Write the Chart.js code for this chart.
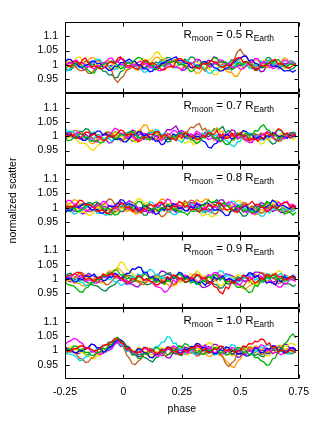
<!DOCTYPE html>
<html>
<head>
<meta charset="utf-8">
<script src="https://cdn.jsdelivr.net/npm/chart.js@4"></script>
<style>
  html, body { margin: 0; padding: 0; background: #fff; }
  #wrap { width: 316px; height: 422px; }
</style>
</head>
<body>
<div id="wrap"><canvas id="c"></canvas></div>
<script>
// phase values shared by every curve
const phase = [-0.25,-0.2375,-0.225,-0.2125,-0.2,-0.1875,-0.175,-0.1625,-0.15,-0.1375,
  -0.125,-0.1125,-0.1,-0.0875,-0.075,-0.0625,-0.05,-0.0375,-0.025,-0.0125,
  0,0.0125,0.025,0.0375,0.05,0.0625,0.075,0.0875,0.1,0.1125,
  0.125,0.1375,0.15,0.1625,0.175,0.1875,0.2,0.2125,0.225,0.2375,
  0.25,0.2625,0.275,0.2875,0.3,0.3125,0.325,0.3375,0.35,0.3625,
  0.375,0.3875,0.4,0.4125,0.425,0.4375,0.45,0.4625,0.475,0.4875,
  0.5,0.5125,0.525,0.5375,0.55,0.5625,0.575,0.5875,0.6,0.6125,
  0.625,0.6375,0.65,0.6625,0.675,0.6875,0.7,0.7125,0.725,0.7375]

const radii = ['0.5', '0.7', '0.8', '0.9', '1.0']
const yTicks = [0.95, 1, 1.05, 1.1]
const xTicks = [-0.25, 0, 0.25, 0.5, 0.75]
const colors = ['#ff0000','#00b000','#0000ff','#ff00ff','#00d8e8','#c0602a','#ffa000','#f0e000','#008a48','#9400d3']

// scatter deviation from 1, in units of 0.001 (one row per curve)
const dev05 = [
  [5,-4,-8,10,12,2,18,24,6,-8,-4,-6,-15,-12,-6,10,10,4,22,28,14,-2,-3,-4,-12,-16,2,14,16,0,8,2,-10,-16,-18,-8,-5,-8,12,22,20,12,9,4,-7,-10,-14,4,3,6,15,10,6,-4,-9,-2,-2,-2,18,24,26,10,11,4,-6,-18,-16,0,-4,-2,8,16,19,2,5,0,-11,-10,-3,6],
  [-12,-6,-4,-2,8,6,-6,-10,-20,-28,-28,-10,-10,2,5,6,14,8,-2,-14,-9,6,6,8,18,26,24,12,10,6,-4,-18,-14,-2,-6,10,9,10,16,0,2,-2,-12,-24,-20,-4,-8,8,6,0,14,26,22,8,10,10,-5,-18,-12,4,2,2,12,8,-4,-20,-18,-4,-10,4,4,6,16,18,8,-8,-6,2,2,0],
  [10,20,18,6,4,-8,-8,-2,2,12,14,4,6,-8,-10,-20,-18,-4,-6,8,8,14,20,12,12,0,-2,-14,-14,-24,-22,-8,-8,4,6,16,18,24,28,14,16,6,4,-10,-10,0,-2,10,12,2,4,-10,-12,-22,-20,-12,-10,4,8,20,22,30,30,14,18,6,2,-10,-8,6,6,-6,-4,-6,-14,-22,-20,-20,-26,-18],
  [-5,4,6,14,16,6,8,-4,-6,-8,-16,-2,-4,8,10,22,24,10,14,0,2,-8,-10,4,-2,10,12,2,6,-10,-8,-8,-20,-20,-12,4,4,-8,-6,-10,-18,-4,-10,6,8,20,18,4,10,-4,-4,8,4,18,16,2,6,-8,-8,-6,-16,-14,-4,8,10,22,22,4,12,-2,-2,-14,-10,4,4,16,14,2,6,-2],
  [-22,-20,-10,2,2,-10,-8,2,-4,10,10,20,18,2,6,-6,-6,-16,-14,0,-4,10,8,-6,-2,-14,-16,-26,-24,-8,-12,2,0,12,12,0,4,-10,-10,4,2,14,16,6,8,-10,-4,-6,-16,-28,-30,-18,-20,-2,-6,8,6,-8,-2,12,10,-2,4,-12,-10,0,-4,14,8,10,18,0,6,-12,-8,2,-2,10,10,2],
  [8,-4,-2,2,-12,-20,-20,-18,-30,-30,-18,-6,-6,6,4,-10,-20,-50,-62,-48,-40,-20,-14,-8,2,0,-6,8,10,2,4,-10,-8,4,-2,14,12,14,20,6,8,-8,-4,8,6,-12,-10,-12,-22,-4,-8,10,10,-4,4,-14,-16,8,22,46,55,38,30,12,8,-10,-6,6,4,16,14,0,2,-14,-10,2,0,10,8,4],
  [14,2,4,-6,-6,8,2,8,16,26,24,12,12,-4,-2,-2,-14,-18,-6,6,6,-6,-4,-6,-16,-20,-8,2,4,4,14,26,26,14,16,10,2,-10,-8,2,4,-8,-6,-6,-18,-30,-28,-14,-16,2,-2,10,8,-8,-4,-20,-26,-26,-40,-40,-22,-4,-6,8,6,18,16,4,6,-10,-6,6,4,4,12,24,20,6,8,-2],
  [2,14,12,10,24,28,16,2,4,-8,-6,4,2,4,14,16,6,-8,-8,-2,-18,-20,-8,8,6,8,18,22,12,18,28,44,44,26,24,4,10,8,-2,-12,-12,4,-4,2,10,10,4,-10,-8,-10,-20,-34,-34,-14,-20,0,-6,2,4,16,14,4,6,-10,-6,6,2,2,14,16,8,-8,-4,-4,-14,-16,-6,10,4,2],
  [-8,-20,-18,-6,-8,6,4,14,12,-2,2,-10,-10,-22,-24,-36,-34,-46,-44,-24,-20,-2,-4,8,8,-2,2,-10,-10,4,-4,10,6,18,16,26,24,10,12,2,0,20,14,28,26,10,18,2,6,-10,-6,4,2,-8,-8,8,4,18,16,4,10,-10,-2,-4,-14,-2,-4,12,8,24,26,12,14,-6,2,-2,-6,-16,-14,-4],
  [0,10,8,-6,-4,-4,-14,-16,-6,8,6,18,16,4,8,-4,-2,10,10,22,20,4,10,-10,-4,-2,-12,-14,-2,-2,-14,-16,-6,10,8,0,2,-8,-10,-10,-20,-18,-6,8,4,-8,-8,8,2,16,14,28,24,8,14,-4,2,-12,-10,0,-4,10,8,0,0,-14,-12,-24,-22,-2,-10,0,2,-10,-6,6,4,14,12,2]
]
const dev07 = [
  [12,0,4,4,-6,-8,2,14,14,2,8,0,-4,-16,-12,4,-2,2,10,22,18,4,8,6,-4,-20,-14,-2,-6,8,6,16,16,-4,6,2,-8,-6,-16,2,-6,12,8,-2,2,-12,-10,4,-4,14,10,6,20,-4,8,-8,-6,10,-2,4,12,-2,4,-14,-10,-8,-18,-4,-8,14,4,4,14,26,22,6,12,-6,2,6],
  [-4,-16,-14,-4,-6,8,8,-6,-2,-18,-16,-14,-24,-22,-12,6,2,-10,-6,8,4,4,16,18,8,-6,-4,-2,-12,-10,2,16,14,0,6,-12,-8,2,-2,12,10,0,-2,-12,-14,-26,-20,-4,-6,8,6,-8,-4,-18,-16,-28,-28,-14,-12,12,2,0,12,4,4,20,18,34,40,24,20,2,6,-6,-4,10,8,6,14,8],
  [16,4,6,-6,-6,-2,-14,-14,-4,8,8,18,18,4,10,-2,-2,-12,-10,-8,-20,-20,-8,8,4,16,14,2,6,-6,-6,-18,-16,-30,-26,-6,-12,8,2,12,12,-4,4,0,-8,0,-2,-16,-20,-38,-42,-28,-24,0,-8,6,4,-10,-6,10,6,20,16,4,8,-12,-4,0,-12,2,-2,12,10,-4,2,-2,-8,4,-2,6],
  [-8,4,2,2,12,14,4,-6,-8,-6,-18,-20,-8,6,4,2,14,28,24,10,10,-6,-2,-2,-12,-14,-4,10,8,-4,2,2,-10,-16,-4,4,8,20,18,6,8,-6,-6,8,2,18,12,0,4,-12,-8,-4,-18,-20,-10,8,2,0,10,-8,0,-2,-12,-22,-22,-4,-10,6,4,16,14,-4,6,2,-6,-10,2,12,10,2],
  [28,16,18,14,6,-6,-4,-2,-14,-16,-6,4,4,-10,-6,-8,-18,-6,-10,8,2,14,12,-2,4,-2,-8,4,-2,12,10,24,20,4,10,-8,-2,-4,-12,-14,-22,-6,-10,8,2,-10,-6,10,6,20,16,0,6,-18,-8,-14,-20,-32,-36,-20,-18,4,-4,12,8,-6,2,-14,-10,2,-4,0,8,22,18,6,8,-6,-4,2],
  [2,10,10,20,20,6,12,-6,-2,-2,-10,6,2,4,14,14,8,-6,-4,-16,-14,2,-4,16,10,10,20,0,8,-14,-6,-8,-16,-4,-8,10,4,-10,-4,6,6,14,18,32,30,40,44,22,28,10,12,-10,-2,0,-12,-4,-4,10,6,-6,-6,-8,-18,-6,-10,8,2,10,10,0,4,-4,-8,-18,-16,4,-4,8,6,-4],
  [-10,0,-2,10,8,-6,-4,-4,-16,-26,-24,-8,-10,8,2,14,12,-2,4,-10,-8,8,2,16,14,18,26,40,38,16,22,10,8,-14,-4,-4,-14,-4,-6,8,4,-8,-6,-6,-16,-4,-8,12,6,22,16,18,30,14,18,-6,4,2,-8,8,2,-12,-10,-8,-20,-6,-8,6,4,16,12,-6,2,-2,-10,8,-2,10,8,0],
  [6,-4,-4,-2,-14,-24,-24,-26,-36,-48,-48,-34,-28,-4,-12,-8,0,14,10,-2,2,-16,-10,-12,-20,-20,-8,10,4,-10,-4,-12,-14,2,-4,10,8,-4,2,-6,-10,-24,-20,-18,-30,-20,-16,6,-2,10,8,-14,-2,-4,-14,-2,-6,14,6,6,16,14,8,-10,-4,-4,-14,-28,-24,-8,-12,14,2,2,10,-10,-2,-2,-12,-6],
  [-14,-2,-4,8,6,18,16,26,24,8,14,0,2,-10,-8,6,2,16,14,4,6,-8,-6,-18,-16,-2,-6,6,6,16,14,2,4,-12,-8,-20,-18,-6,-8,8,2,6,12,-2,4,-8,-8,6,2,6,12,26,22,26,34,12,20,12,8,-10,-4,-4,-14,-2,-6,8,4,-10,-6,-6,-16,-28,-24,-6,-12,4,0,12,10,2],
  [4,14,12,-2,2,-10,-10,8,-2,2,10,-6,0,-10,-12,-24,-22,-8,-12,8,0,0,8,22,18,2,10,-12,-2,-2,-12,2,-4,4,8,24,22,28,36,16,20,12,6,-10,-6,10,4,4,14,-2,4,-14,-8,8,-2,4,10,22,20,0,10,4,-2,-16,-12,2,-4,10,6,-10,-4,-4,-14,-16,-6,10,6,4,14,10]
]
const dev08 = [
  [-6,4,4,2,14,26,24,10,12,8,0,-14,-10,-8,-20,-20,-10,2,2,14,12,0,4,-14,-8,-4,-18,-4,-6,12,6,4,16,20,8,-8,-4,6,4,22,16,2,8,-8,-6,-6,-16,-2,-8,12,4,2,14,16,6,-8,-6,-2,-14,-16,-4,10,10,12,22,10,12,2,0,-14,-10,4,-2,0,10,20,18,2,8,0],
  [10,-2,0,-2,-12,-14,-4,8,8,8,18,20,8,-6,-4,-2,-14,-26,-24,-12,-12,4,0,0,10,22,20,2,10,-10,-2,-4,-12,0,-4,12,8,-6,-4,-14,-16,-18,-26,-10,-14,-4,-2,10,8,26,18,20,28,4,16,12,4,-10,-6,6,2,-14,-8,-8,-18,-14,-8,4,4,18,14,0,4,-6,-8,-22,-18,-16,-26,-16],
  [-20,-8,-10,4,2,2,12,14,4,-8,-8,-6,-18,-20,-10,8,2,6,14,28,26,10,14,10,2,-12,-8,8,2,-2,-10,-24,-20,-2,-10,8,2,14,10,-4,0,-10,-12,4,-4,14,8,8,16,16,6,-10,-6,-8,-16,-28,-26,-8,-14,8,-2,2,8,-10,-2,-16,-12,6,-2,4,10,26,20,4,10,6,0,-4,6,0],
  [14,26,24,12,12,-2,0,-12,-10,4,-2,8,10,22,20,4,8,-4,-4,-14,-14,0,-4,10,6,-6,-4,-2,-16,-18,-8,12,4,16,14,30,26,6,14,8,2,-12,-8,8,2,18,12,-4,2,-12,-10,4,-2,18,10,6,20,18,10,-4,-2,-16,-12,-10,-22,-22,-12,4,0,-10,-8,6,2,20,12,16,22,8,12,4],
  [0,-8,-10,-22,-20,-8,-10,4,2,-6,-8,-20,-18,-20,-28,-16,-16,2,-4,10,6,8,16,0,8,-10,-4,6,6,20,18,2,8,-12,-4,-4,-14,-24,-24,-14,-12,4,0,12,10,-6,2,-18,-10,-10,-20,-6,-10,14,2,10,12,22,22,6,12,-6,0,-16,-10,-12,-20,-30,-30,-12,-18,-2,-6,8,4,-8,-6,-4,-14,-6],
  [-12,0,-2,8,8,-6,-2,-2,-14,-14,-4,10,8,10,18,30,28,12,16,6,4,-6,-6,-2,-16,-16,-6,10,4,-6,-6,-4,-18,-32,-28,-14,-16,6,-4,6,6,24,16,26,24,8,12,10,0,-14,-10,-22,-20,2,-8,8,4,-8,-6,2,4,18,16,-2,6,-4,-6,-20,-16,0,-6,10,6,-10,-4,-2,-14,-16,-4,6],
  [6,14,16,28,26,12,14,0,2,-10,-8,8,2,-12,-10,-10,-20,-18,-12,4,0,-14,-10,-10,-22,-20,-12,4,-2,12,8,10,18,30,28,8,16,6,4,-12,-8,10,2,12,12,28,22,20,30,30,18,4,6,-12,-4,-4,-14,-14,-4,8,8,-6,-2,-4,-12,-26,-22,-6,-10,14,2,4,12,12,4,-10,-8,-8,2,6],
  [20,10,8,6,-4,-18,-14,-16,-26,-26,-14,2,-2,12,8,-6,-2,2,-12,-4,-2,14,10,12,20,32,30,14,18,12,6,-12,-4,-6,-14,2,-4,14,6,8,18,18,8,-8,-4,-6,-14,-30,-24,-22,-32,-30,-20,-2,-8,14,2,6,12,26,24,8,14,0,2,-14,-8,6,2,18,14,14,24,22,12,-4,0,0,-10,-2],
  [-4,-12,-14,0,-4,10,8,10,18,16,8,-6,-4,-2,-14,-24,-24,-12,-14,2,-2,12,8,-8,-2,-14,-14,-26,-26,-6,-14,4,-2,12,8,-8,-2,-4,-12,0,0,16,12,0,4,-14,-8,-8,-18,-4,-8,12,4,4,14,16,6,-12,-6,-6,-18,-30,-28,-12,-16,6,-4,10,6,22,16,0,8,-10,-4,-2,-14,-4,-6,0],
  [8,6,-2,-12,-12,-14,-22,-18,-10,0,2,16,14,2,4,-6,-6,6,4,20,14,16,24,18,12,-2,0,-14,-10,-10,-20,-6,-8,-4,4,-10,-6,-8,-16,-2,-6,8,6,18,16,0,6,-8,-4,6,6,20,18,26,28,12,18,0,6,-16,-6,-6,-16,-4,-6,8,4,18,14,-2,4,-14,-8,-8,-18,-16,-8,4,4,0]
]
const dev09 = [
  [4,12,14,16,24,22,14,-2,2,0,-8,4,2,18,12,14,22,8,12,2,0,-12,-10,2,-2,12,10,-4,2,-8,-10,-20,-20,-6,-10,8,2,14,12,0,4,-10,-8,6,2,16,14,0,6,-14,-10,-26,-30,-46,-52,-28,-34,-8,-14,2,-2,12,8,-6,0,-14,-10,4,-2,16,10,12,20,8,10,-2,-2,8,6,0],
  [-10,-20,-22,-24,-34,-44,-46,-32,-28,-14,-12,-2,0,12,10,22,20,32,30,14,16,0,4,-8,-6,8,4,16,14,0,4,-12,-8,-8,-18,-4,-8,10,2,18,12,-2,2,-14,-10,-12,-20,-6,-10,10,2,16,12,-4,4,-12,-8,-8,-18,-30,-28,-26,-38,-48,-44,-22,-26,-2,-10,10,2,14,12,-4,4,-8,-6,8,4,0],
  [12,0,2,-10,-10,2,-2,12,8,10,18,2,8,-6,-4,8,6,20,16,2,8,20,20,36,34,42,40,20,24,2,10,-4,-2,-14,-12,2,-2,12,10,24,20,2,10,-6,-2,-16,-12,-12,-22,-8,-12,8,0,2,10,-4,2,-2,-10,2,-2,14,10,22,20,6,12,-6,0,-14,-10,-14,-20,-4,-10,8,2,6,12,4],
  [-4,4,6,18,16,2,8,-8,-4,-4,-14,-14,-4,10,8,8,18,18,10,-6,-2,-4,-12,-12,-2,12,8,-4,-2,-6,-14,-26,-28,-32,-46,-42,-28,-2,-12,4,0,14,10,-2,2,-12,-8,6,2,16,12,22,22,4,12,-10,0,-4,-10,-20,-20,-4,-10,10,2,6,12,10,4,-14,-8,-10,-18,-28,-28,-14,-16,2,-4,-8],
  [20,8,10,-6,-2,-10,-12,-24,-22,-8,-12,4,0,12,10,-2,2,-10,-10,-22,-20,-4,-10,8,2,18,12,26,22,34,30,14,18,2,6,-8,-4,10,6,20,16,0,6,-10,-6,-20,-16,-2,-6,12,6,10,16,30,26,8,14,-2,2,-12,-8,6,2,16,12,-4,2,-12,-10,4,-2,16,10,14,20,4,10,-4,0,6],
  [-8,4,2,-2,12,24,22,10,12,0,0,-12,-10,-8,-20,-18,-8,6,4,2,14,16,4,-10,-8,-6,-18,-20,-8,6,4,16,14,-2,6,6,-6,-18,-16,4,-6,8,6,4,16,18,8,-6,-4,-16,-14,2,-4,12,8,-4,-2,-16,-14,-12,-24,-26,-12,6,0,16,10,24,20,2,10,2,-2,-16,-12,4,-2,2,8,2],
  [6,4,-4,-14,-14,-16,-24,-24,-14,-12,-2,8,8,10,18,28,28,30,38,32,20,8,6,2,-4,-12,-14,-2,-4,6,6,-4,-4,-14,-16,-18,-26,-24,-14,-4,-2,6,8,-8,-2,-4,-14,-2,-4,8,8,10,18,8,8,-6,-4,-14,-14,-16,-24,-34,-34,-24,-20,-16,-6,6,4,-6,-6,-16,-16,-4,-6,4,4,2,14,8],
  [-14,-6,-4,8,6,18,16,6,8,-8,-4,-4,-14,-14,-4,14,10,30,42,60,56,34,30,18,10,-8,-2,-4,-12,2,-2,12,8,-6,-2,-4,-12,-24,-22,-8,-10,0,2,18,12,28,22,10,12,-6,0,-4,-10,-24,-20,-6,-10,8,2,16,12,8,4,-14,-8,-20,-18,-14,-8,10,4,20,14,30,24,4,12,6,0,-6],
  [10,18,20,8,10,-4,-2,-10,-12,-20,-22,-24,-32,-40,-42,-30,-24,-20,-8,0,2,14,12,10,2,-10,-10,-12,-20,-18,-10,4,2,10,12,20,22,8,12,-2,0,-12,-10,2,-2,12,10,-2,2,-12,-10,-18,-20,-32,-30,-14,-18,-8,-6,8,4,-8,-6,-6,-16,-14,-6,6,6,18,16,4,6,-4,-6,-18,-16,-18,-26,-20],
  [0,-8,-10,0,-2,12,10,10,20,14,10,-6,-2,8,6,18,16,4,6,-4,-6,-18,-16,-18,-26,-28,-16,-4,-4,8,6,8,16,28,26,18,14,2,2,-10,-8,4,2,-8,-8,-10,-18,-30,-28,-24,-16,-6,-4,14,6,18,16,12,6,-6,-6,4,4,16,14,24,24,22,14,2,2,-12,-8,4,2,14,12,4,2,-2]
]
const dev10 = [
  [8,-4,-2,6,6,14,16,4,10,4,-2,0,8,18,20,22,30,42,40,30,24,2,8,-2,-6,-8,-2,10,10,-2,2,-12,-10,2,-2,10,8,-8,-2,-14,-14,2,-4,10,8,18,16,0,6,-8,-6,6,2,16,14,-2,4,2,-8,-2,2,16,12,24,22,32,30,40,38,20,26,6,12,-6,2,-2,-8,2,-2,-8],
  [-6,4,4,16,14,2,6,-8,-6,-18,-16,-8,-6,8,4,18,20,40,44,32,28,10,6,-16,-14,-28,-28,-10,-14,-8,-2,10,8,-8,-2,-16,-12,2,-2,16,10,24,20,2,10,-10,-2,-14,-12,4,-2,10,8,-12,-4,-16,-14,4,-4,10,8,-10,-2,-16,-12,-26,-24,-36,-40,-52,-50,-30,-26,-2,-2,22,30,48,58,44],
  [14,2,4,-6,-8,0,-2,8,10,22,20,8,10,-6,-2,10,14,30,36,38,30,14,10,-4,-6,6,4,-8,-10,-24,-26,-14,-12,4,0,12,10,-2,2,-10,-8,6,2,14,12,24,22,8,12,-4,0,-12,-10,4,-2,12,10,-4,2,-14,-10,-12,-20,-18,-8,10,4,-8,-6,8,4,16,16,0,6,-8,-6,8,10,2],
  [20,30,34,42,40,30,24,10,8,-6,-4,-8,-14,-10,-4,14,8,24,30,28,20,6,-2,-14,-16,-4,-8,8,4,-4,-8,-18,-20,-8,-10,8,2,16,12,-2,2,-4,-10,4,-2,14,10,12,20,6,8,-10,-4,-8,-14,2,-4,10,8,-6,-2,-14,-12,2,-4,10,6,20,16,-2,6,-12,-6,-10,-16,-2,-6,8,6,0],
  [-4,-12,-14,-16,-24,-36,-34,-22,-20,-2,-6,8,4,-8,-6,6,10,26,32,20,16,-4,0,-14,-12,4,-2,12,10,-4,2,14,14,28,30,48,46,24,26,2,10,-12,-2,-2,-12,-14,-4,10,8,-8,-2,-16,-14,2,-4,10,8,20,18,2,8,-8,-4,-16,-14,2,-4,12,8,20,18,4,10,-8,-2,-4,-12,-12,-2,4],
  [6,4,-4,-6,-14,-28,-30,-42,-40,-28,-22,-4,-8,8,2,22,18,32,38,20,12,-14,-28,-46,-50,-38,-30,-12,-10,8,2,-10,-8,-8,-18,-18,-8,10,4,16,14,0,4,-10,-8,-20,-18,-2,-8,8,4,-10,-6,-12,-24,-46,-56,-44,-36,-10,-14,6,-2,12,8,-8,-2,-14,-12,6,-2,16,10,-4,2,-12,-8,8,2,-4],
  [-12,-4,-2,8,8,16,18,8,8,-4,-4,-14,-14,-6,-6,10,14,32,40,26,22,8,4,-6,-8,8,2,-8,-12,-22,-24,-14,-12,4,0,10,10,-2,2,-10,-8,6,2,12,12,-2,2,-12,-10,-20,-20,-10,-8,-18,-20,-36,-44,-56,-60,-38,-30,-14,-8,8,4,16,14,2,6,-6,-4,8,6,18,16,4,6,0,-6,-4],
  [2,10,12,2,4,-8,-8,-16,-18,-28,-30,-20,-18,0,-6,8,12,28,34,24,26,16,10,0,-2,10,8,-4,-4,-14,-16,-4,-6,10,6,8,16,12,6,-6,-6,-14,-16,-4,-6,8,6,16,16,26,26,8,14,-4,2,-2,-8,-20,-18,-6,-8,8,4,12,14,-2,4,-14,-8,-20,-18,-6,-8,8,4,16,14,24,24,18],
  [-16,-4,-6,4,6,-4,-4,-16,-14,-2,-4,4,8,16,18,30,28,40,46,36,30,16,12,-6,-2,-16,-12,-24,-28,-36,-40,-26,-22,-4,-8,4,2,-10,-8,-16,-18,-4,-8,8,4,16,14,-2,4,-10,-8,8,2,14,12,-4,2,-12,-10,2,-2,12,10,-4,0,-18,-12,-20,-22,-4,-12,6,0,12,10,-2,2,-12,-10,-4],
  [10,8,0,-8,-10,-10,-2,8,10,22,20,8,10,-6,-2,0,6,22,28,14,18,-2,2,-10,-10,-22,-20,-6,-8,4,4,-8,-6,-18,-16,-26,-26,-8,-14,6,-2,12,8,-4,-2,-14,-12,2,-2,14,10,22,20,2,10,-10,-2,-14,-12,-24,-22,-6,-12,4,0,12,10,-2,2,-12,-10,2,-2,12,10,22,20,6,10,4]
]
const panels = [dev05, dev07, dev08, dev09, dev10]

const FONT = 'Liberation Sans, Arial, sans-serif'
Chart.defaults.font.family = FONT
Chart.defaults.font.size = 10.5
Chart.defaults.color = '#000'

//-------------------------datasets----------------------------------
const datasets = []
panels.forEach((rows, p) => {
  rows.forEach((row, k) => {
    datasets.push({
      yAxisID: 'y' + p,
      data: row.map((d, i) => ({x: phase[i], y: 1 + d / 1000})),
      borderColor: colors[k % colors.length],
      borderWidth: 1.3,
      pointRadius: 0,
      tension: 0
    })
  })
})

//-------------------------scales------------------------------------
const scales = {
  x: {
    type: 'linear', position: 'bottom', min: -0.25, max: 0.75,
    afterBuildTicks: s => { s.ticks = xTicks.map(v => ({value: v})) },
    afterFit: s => { s.height = 43 },
    ticks: { padding: 7, maxRotation: 0, autoSkip: false, callback: v => String(v) },
    grid: { display: false, drawTicks: false },
    border: { display: false },
    title: { display: true, text: 'phase', font: { size: 10.5 }, padding: { top: 0, bottom: 7 } }
  }
}
// stacked panels; define bottom panel first so the 0.5 panel lands on top
for (let p = panels.length - 1; p >= 0; p--) {
  scales['y' + p] = {
    type: 'linear', position: 'left', stack: 'panels', stackWeight: 1,
    min: 0.9, max: 1.15,
    afterBuildTicks: s => { s.ticks = yTicks.map(v => ({value: v})) },
    afterFit: s => { s.width = 65 },
    ticks: { padding: 7, autoSkip: false, callback: v => String(v) },
    grid: { display: false, drawTicks: false },
    border: { display: false },
    title: { display: p === 2, text: 'normalized scatter', font: { size: 10.5 }, padding: { top: 7, bottom: 0 } }
  }
}

//-------------------------frames, inner ticks, labels----------------
const framePlugin = {
  id: 'frames',
  afterDatasetsDraw(chart) {
    const ctx = chart.ctx
    const area = chart.chartArea
    const xs = chart.scales.x
    const L = Math.round(area.left) + 0.5
    const R = Math.round(area.right) - 0.5
    ctx.save()
    ctx.strokeStyle = '#000'
    ctx.lineWidth = 1
    panels.forEach((rows, p) => {
      const ys = chart.scales['y' + p]
      const T = Math.round(ys.top) + 0.5
      const B = Math.round(ys.bottom) - 0.5
      ctx.beginPath()
      ctx.rect(L, T, R - L, B - T)
      xTicks.forEach(v => {
        const x = Math.round(xs.getPixelForValue(v)) + 0.5
        ctx.moveTo(x, T); ctx.lineTo(x, T + 4)
        ctx.moveTo(x, B); ctx.lineTo(x, B - 4)
      })
      yTicks.forEach(v => {
        const y = Math.round(ys.getPixelForValue(v)) + 0.5
        ctx.moveTo(L, y); ctx.lineTo(L + 4, y)
        ctx.moveTo(R, y); ctx.lineTo(R - 4, y)
      })
      ctx.stroke()

      // R_moon = x R_Earth
      let x = L + 118
      const base = ys.top + 16
      ctx.fillStyle = '#000'
      ctx.textBaseline = 'alphabetic'
      ctx.textAlign = 'left'
      const parts = [['R', 11.5, 0], ['moon', 8.5, 3], [' = ' + radii[p] + ' ', 11.5, 0], ['R', 11.5, 0], ['Earth', 8.5, 3]]
      parts.forEach(([t, size, dy]) => {
        ctx.font = size + 'px ' + FONT
        ctx.fillText(t, x, base + dy)
        x += ctx.measureText(t).width
      })
    })
    ctx.restore()
  }
}

new Chart(document.getElementById('c'), {
  type: 'line',
  data: { datasets },
  options: {
    responsive: true,
    maintainAspectRatio: false,
    animation: false,
    layout: { padding: { top: 22, right: 16, left: 0, bottom: 0 } },
    plugins: { legend: { display: false }, tooltip: { enabled: false } },
    scales
  },
  plugins: [framePlugin]
})
</script>
</body>
</html>
